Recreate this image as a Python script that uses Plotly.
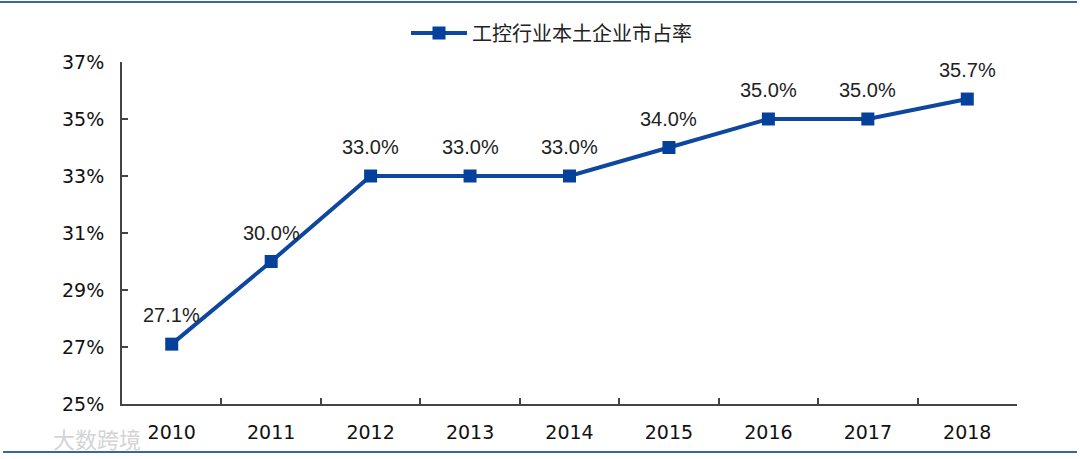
import plotly.graph_objects as go

years = ["2010", "2011", "2012", "2013", "2014", "2015", "2016", "2017", "2018"]
share = [27.1, 30.0, 33.0, 33.0, 33.0, 34.0, 35.0, 35.0, 35.7]
labels = [f"{v:.1f}%" for v in share]
series_name = "工控行业本土企业市占率"
watermark = "大数跨境"

blue = "#0d47a0"
W, H = 1080, 459
ML, MR, MT, MB = 122, 63, 62, 55
PW, PH = W - ML - MR, H - MT - MB

fig = go.Figure()
fig.add_trace(go.Scatter(
    x=years, y=share, name=series_name,
    mode="lines+markers",
    line=dict(color=blue, width=4),
    marker=dict(symbol="square", size=13, color="#05409a"),
    cliponaxis=False,
))

annotations = [
    dict(x=i, y=v, text=t, xref="x", yref="y", showarrow=False,
         yshift=29, xanchor="center", yanchor="middle",
         font=dict(family="Liberation Sans, Arial, sans-serif", size=20, color="#222222"))
    for i, (v, t) in enumerate(zip(share, labels))
]
annotations.append(
    dict(text=watermark, xref="paper", yref="paper", x=-(ML - 51) / PW, y=-(438 - (H - MB)) / PH,
         xanchor="left", yanchor="middle", showarrow=False,
         font=dict(family="Noto Sans CJK SC", size=22, color="#d4d4d4"))
)

fig.update_layout(
    width=W, height=H,
    margin=dict(l=ML, r=MR, t=MT, b=MB),
    paper_bgcolor="white", plot_bgcolor="white",
    showlegend=True,
    legend=dict(
        orientation="h", x=406 / W, xanchor="left", xref="container",
        y=1 - 33 / H, yanchor="middle", yref="container",
        font=dict(family="Noto Sans CJK SC", size=20, color="#222222"),
        itemwidth=56,
    ),
    xaxis=dict(
        type="category", showline=True, linecolor="#444444", linewidth=2,
        ticks="inside", tickson="boundaries", ticklen=6, tickcolor="#444444", tickwidth=1.5,
        showgrid=False, zeroline=False, automargin=False,
        range=[-0.5, len(years) - 0.5],
        tickfont=dict(family="DejaVu Sans", size=19, color="#111111"),
        ticklabelstandoff=10,
    ),
    yaxis=dict(
        range=[25, 37], dtick=2, tick0=25, ticksuffix="%",
        showline=True, linecolor="#444444", linewidth=2,
        ticks="inside", ticklen=6, tickcolor="#444444", tickwidth=1.5,
        showgrid=False, zeroline=False, automargin=False,
        tickfont=dict(family="DejaVu Sans", size=19, color="#111111"),
        ticklabelstandoff=12,
    ),
    shapes=[
        dict(type="line", xref="paper", yref="paper", x0=-ML / PW, x1=(1077 - ML) / PW,
             y0=(H - MB - 2) / PH, y1=(H - MB - 2) / PH,
             line=dict(color="#3a64a8", width=2)),
        dict(type="line", xref="paper", yref="paper", x0=-(ML - 3) / PW, x1=(1077 - ML) / PW,
             y0=-(452 - (H - MB)) / PH, y1=-(452 - (H - MB)) / PH,
             line=dict(color="#3a64a8", width=2)),
    ],
    annotations=annotations,
)

fig.write_html("out.html", config={"displayModeBar": False},
               post_script="document.body.style.margin='0';document.body.style.overflow='hidden';")
